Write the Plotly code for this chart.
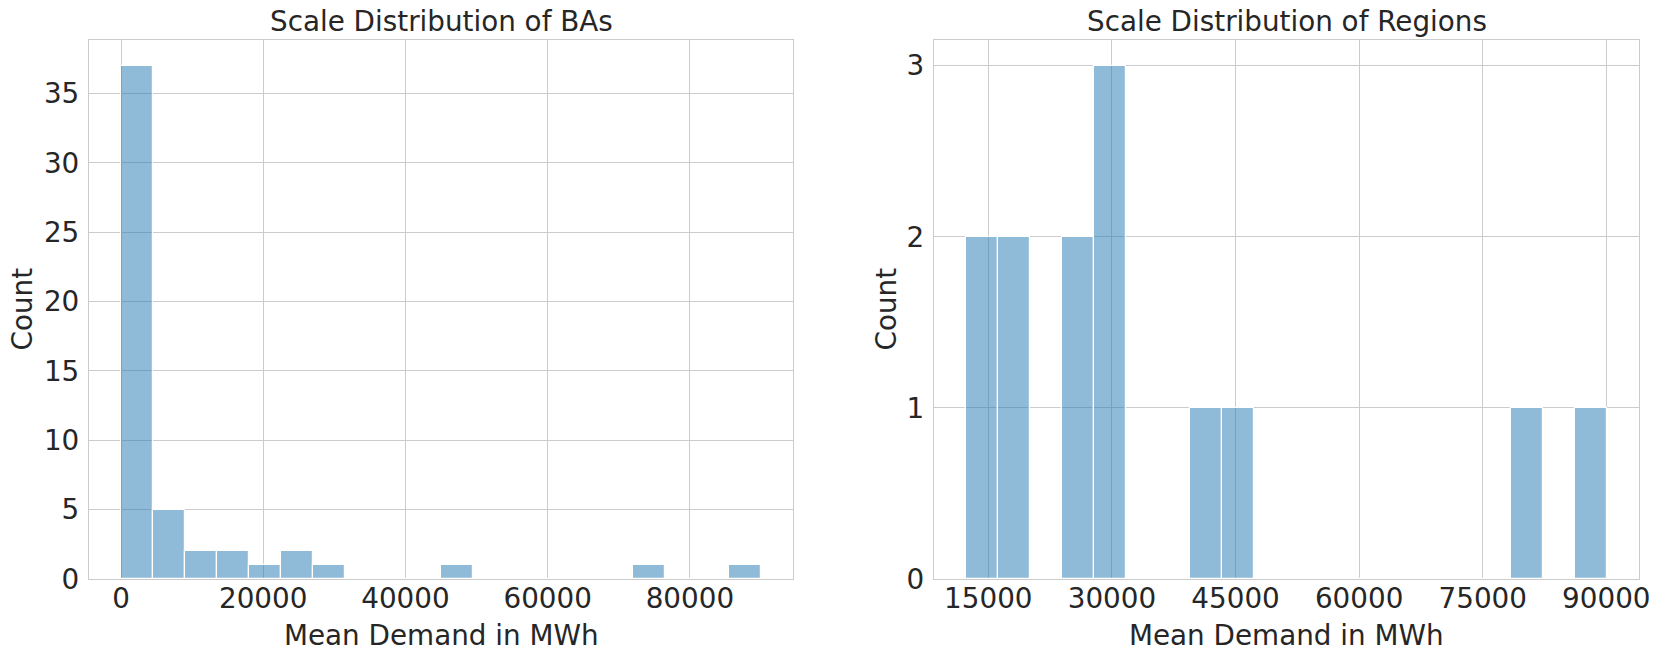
import plotly.graph_objects as go

# ---- data ----
ba_bin_start = 0
ba_bin_width = 4500
ba_counts = [37, 5, 2, 2, 1, 2, 1, 0, 0, 0, 1, 0, 0, 0, 0, 0, 1, 0, 0, 1]

region_bin_start = 12294
region_bin_width = 3889
region_counts = [2, 2, 0, 2, 3, 0, 0, 1, 1, 0, 0, 0, 0, 0, 0, 0, 0, 1, 0, 1]

ba_xticks = [0, 20000, 40000, 60000, 80000]
ba_yticks = [0, 5, 10, 15, 20, 25, 30, 35]
region_xticks = [15000, 30000, 45000, 60000, 75000, 90000]
region_yticks = [0, 1, 2, 3]

titles = ["Scale Distribution of BAs", "Scale Distribution of Regions"]
x_label = "Mean Demand in MWh"
y_label = "Count"

# ---- styling ----
W, H = 1660, 660
FONT = "DejaVu Sans"
FS = 27.8
TXT = "#262626"
GRID = "#cccccc"
BAR = "rgba(31,119,180,0.5)"


def centers(start, width, counts):
    return [start + width * (i + 0.5) for i in range(len(counts))]


fig = go.Figure()
fig.add_trace(go.Bar(
    x=centers(ba_bin_start, ba_bin_width, ba_counts), y=ba_counts,
    width=[ba_bin_width] * len(ba_counts),
    marker=dict(color=BAR, line=dict(color="white", width=1.2)),
    xaxis="x", yaxis="y", showlegend=False, hoverinfo="x+y"))
fig.add_trace(go.Bar(
    x=centers(region_bin_start, region_bin_width, region_counts), y=region_counts,
    width=[region_bin_width] * len(region_counts),
    marker=dict(color=BAR, line=dict(color="white", width=1.2)),
    xaxis="x2", yaxis="y2", showlegend=False, hoverinfo="x+y"))

# plot-area pixel boxes
L1, R1 = 89, 793
L2, R2 = 934, 1639
T, B = 40, 579
ydom = [1 - B / H, 1 - T / H]


def span(start, width, counts):
    lo = start
    hi = start + width * len(counts)
    pad = (hi - lo) * 0.05
    return [lo - pad, hi + pad]


axis_common = dict(
    showline=True, mirror=True, linecolor=GRID, linewidth=1.3,
    showgrid=True, gridcolor=GRID, gridwidth=1.1,
    zeroline=False, ticks="", automargin=False,
    tickfont=dict(family=FONT, size=FS, color=TXT),
)
XSO, YSO = -6, 3

fig.update_layout(
    width=W, height=H,
    margin=dict(l=0, r=0, t=0, b=0, autoexpand=False),
    paper_bgcolor="white", plot_bgcolor="white",
    bargap=0,
    font=dict(family=FONT, size=FS, color=TXT),
    xaxis=dict(domain=[L1 / W, R1 / W], range=span(ba_bin_start, ba_bin_width, ba_counts),
               tickvals=ba_xticks, tickformat="d", anchor="y", ticklabelstandoff=XSO, **axis_common),
    yaxis=dict(domain=ydom, range=[0, max(ba_counts) * 1.05],
               tickvals=ba_yticks, anchor="x", ticklabelstandoff=YSO, **axis_common),
    xaxis2=dict(domain=[L2 / W, R2 / W], range=span(region_bin_start, region_bin_width, region_counts),
                tickvals=region_xticks, tickformat="d", anchor="y2", ticklabelstandoff=XSO, **axis_common),
    yaxis2=dict(domain=ydom, range=[0, max(region_counts) * 1.05],
                tickvals=region_yticks, anchor="x2", ticklabelstandoff=YSO, **axis_common),
)

annots = []
for (l, r), t in zip([(L1, R1), (L2, R2)], titles):
    cx = (l + r) / 2 / W
    annots.append(dict(text=t, x=cx, y=1 - 22 / H, xref="paper", yref="paper",
                       xanchor="center", yanchor="middle", showarrow=False,
                       font=dict(family=FONT, size=FS, color=TXT)))
    annots.append(dict(text=x_label, x=cx, y=1 - 635 / H, xref="paper", yref="paper",
                       xanchor="center", yanchor="middle", showarrow=False,
                       font=dict(family=FONT, size=FS, color=TXT)))
for xc in [22, 886]:
    annots.append(dict(text=y_label, x=xc / W, y=1 - ((T + B) / 2) / H, xref="paper", yref="paper",
                       xanchor="center", yanchor="middle", textangle=-90, showarrow=False,
                       font=dict(family=FONT, size=FS, color=TXT)))
fig.update_layout(annotations=annots)

fig.write_html("out.html", config={"displayModeBar": False},
               post_script="document.body.style.margin='0';document.body.style.overflow='hidden';")
